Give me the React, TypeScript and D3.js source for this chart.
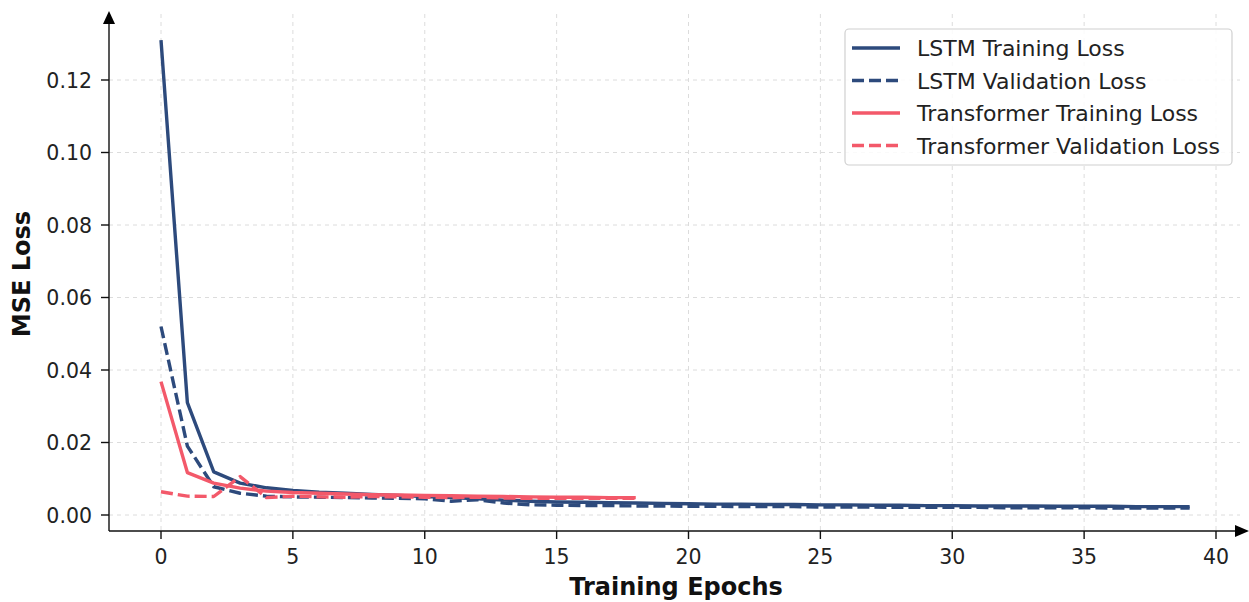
import React, { useEffect, useRef } from 'react';
import * as d3 from 'd3';

// loss per epoch
const lstmTrain = [0.131, 0.031, 0.0119, 0.0088, 0.0075, 0.0068, 0.0063, 0.006, 0.0057, 0.0054,
  0.0051, 0.0048, 0.0045, 0.0041, 0.0038, 0.0036, 0.0035, 0.0034, 0.0033, 0.0032,
  0.0031, 0.003, 0.003, 0.0029, 0.0029, 0.0028, 0.0028, 0.0027, 0.0027, 0.0026,
  0.0026, 0.0025, 0.0025, 0.0025, 0.0024, 0.0024, 0.0024, 0.0023, 0.0023, 0.0023];
const lstmVal = [0.052, 0.019, 0.0078, 0.006, 0.0052, 0.005, 0.0049, 0.0048, 0.0047, 0.0046,
  0.0045, 0.0038, 0.0042, 0.0033, 0.0028, 0.0027, 0.0026, 0.0026, 0.0025, 0.0025,
  0.0024, 0.0024, 0.0023, 0.0023, 0.0023, 0.0022, 0.0022, 0.0022, 0.0021, 0.0021,
  0.0021, 0.0021, 0.002, 0.002, 0.002, 0.002, 0.0019, 0.0019, 0.0019, 0.0019];
const transTrain = [0.0368, 0.0117, 0.0088, 0.0074, 0.0066, 0.0062, 0.006, 0.0058, 0.0056, 0.0055,
  0.0054, 0.0053, 0.0052, 0.0051, 0.005, 0.0049, 0.0049, 0.0048, 0.0048];
const transVal = [0.0064, 0.0052, 0.0051, 0.0106, 0.0048, 0.0052, 0.005, 0.0049, 0.0051, 0.005,
  0.0049, 0.0048, 0.0049, 0.0047, 0.0046, 0.0046, 0.0046, 0.0046, 0.0046];

const xTicks = [0, 5, 10, 15, 20, 25, 30, 35, 40];
const yTicks = [0, 0.02, 0.04, 0.06, 0.08, 0.1, 0.12];

const NAVY = '#2d4a7c';
const RED = '#f3596a';

const series = [
  { name: 'LSTM Training Loss', data: lstmTrain, color: NAVY, dash: null },
  { name: 'LSTM Validation Loss', data: lstmVal, color: NAVY, dash: '12,5' },
  { name: 'Transformer Training Loss', data: transTrain, color: RED, dash: null },
  { name: 'Transformer Validation Loss', data: transVal, color: RED, dash: '12,5' },
];

const W = 1249, H = 602;
const FONT = 'DejaVu Sans, sans-serif';

export default function App() {
  const ref = useRef<SVGSVGElement>(null);

  useEffect(() => {
    document.body.style.margin = '0';
    const svg = d3.select(ref.current);
    svg.selectAll('*').remove();

    const x = d3.scaleLinear().domain([0, 40]).range([161, 1216]);
    const y = d3.scaleLinear().domain([0, 0.12]).range([515, 80]);
    const left = 109, bottom = 531, top = 14, right = 1240;

    // grid
    const grid = svg.append('g').attr('stroke', '#dcdcdc').attr('stroke-width', 1)
      .attr('stroke-dasharray', '4,4');
    xTicks.forEach(t => {
      grid.append('line').attr('x1', x(t)).attr('x2', x(t)).attr('y1', top).attr('y2', bottom);
    });
    yTicks.forEach(t => {
      grid.append('line').attr('x1', left).attr('x2', right).attr('y1', y(t)).attr('y2', y(t));
    });

    // lines
    const line = d3.line<number>().x((d, i) => x(i)).y(d => y(d));
    series.forEach(s => {
      svg.append('path')
        .datum(s.data)
        .attr('d', line)
        .attr('fill', 'none')
        .attr('stroke', s.color)
        .attr('stroke-width', 3.4)
        .attr('stroke-dasharray', s.dash)
        .attr('stroke-linejoin', 'round');
    });

    // axes
    const ax = svg.append('g').attr('stroke', '#111').attr('stroke-width', 1.4);
    ax.append('line').attr('x1', left).attr('x2', left).attr('y1', bottom).attr('y2', 22);
    ax.append('line').attr('x1', left).attr('x2', 1236).attr('y1', bottom).attr('y2', bottom);
    svg.append('path').attr('d', `M${left - 6},24 L${left},11 L${left + 6},24 Z`).attr('fill', '#000');
    svg.append('path').attr('d', `M1235,${bottom - 6} L1249,${bottom} L1235,${bottom + 6} Z`).attr('fill', '#000');

    xTicks.forEach(t => {
      ax.append('line').attr('x1', x(t)).attr('x2', x(t)).attr('y1', bottom).attr('y2', bottom + 8);
      svg.append('text').attr('x', x(t)).attr('y', bottom + 33)
        .attr('text-anchor', 'middle').attr('font-family', FONT).attr('font-size', 20.5)
        .attr('fill', '#222').text(t);
    });
    yTicks.forEach(t => {
      ax.append('line').attr('x1', left - 8).attr('x2', left).attr('y1', y(t)).attr('y2', y(t));
      svg.append('text').attr('x', left - 17).attr('y', y(t) + 7.5)
        .attr('text-anchor', 'end').attr('font-family', FONT).attr('font-size', 20.5)
        .attr('fill', '#222').text(t.toFixed(2));
    });

    svg.append('text').attr('x', 676).attr('y', 595).attr('text-anchor', 'middle')
      .attr('font-family', FONT).attr('font-size', 24).attr('font-weight', 'bold')
      .attr('fill', '#111').text('Training Epochs');
    svg.append('text').attr('transform', 'translate(30,274) rotate(-90)').attr('text-anchor', 'middle')
      .attr('font-family', FONT).attr('font-size', 24).attr('font-weight', 'bold')
      .attr('fill', '#111').text('MSE Loss');

    // legend
    const lg = svg.append('g');
    lg.append('rect').attr('x', 845).attr('y', 29).attr('width', 387).attr('height', 136)
      .attr('rx', 4).attr('fill', '#fff').attr('fill-opacity', 0.85)
      .attr('stroke', '#d0d0d0').attr('stroke-width', 1.2);
    series.forEach((s, i) => {
      const yy = 48 + i * 32.5;
      lg.append('line').attr('x1', 852).attr('x2', 900).attr('y1', yy).attr('y2', yy)
        .attr('stroke', s.color).attr('stroke-width', 3.4).attr('stroke-dasharray', s.dash);
      lg.append('text').attr('x', 917).attr('y', yy + 8).attr('font-family', FONT)
        .attr('font-size', 22).attr('fill', '#222').text(s.name);
    });
  }, []);

  return <svg ref={ref} width={W} height={H} style={{ display: 'block', background: '#fff' }} />;
}
